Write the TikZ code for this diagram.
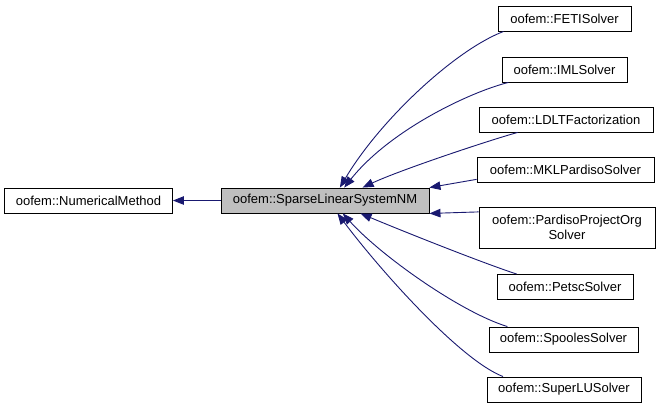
\documentclass[tikz,border=0pt]{standalone}
\usepackage{fontspec}
\setmainfont{Liberation Sans}
\usetikzlibrary{arrows.meta}
\definecolor{edgeblue}{HTML}{191970}
\definecolor{basegray}{HTML}{BFBFBF}
\begin{document}
\begin{tikzpicture}[x=1pt,y=-1pt,
  cls/.style={draw=black, line width=0.9pt, fill=white, inner sep=0pt,
    minimum height=25pt, anchor=center, align=center,
    font=\fontsize{13}{15}\selectfont},
  edge/.style={draw=edgeblue, line width=0.9pt,
    -{Triangle[length=11pt,width=8.5pt,fill=edgeblue]}}]
\useasboundingbox (0,0) rectangle (657,408);
\node[cls, minimum width=168pt] (num) at (88.5,200.5) {oofem::NumericalMethod};
\node[cls, minimum width=208pt, fill=basegray] (sparse) at (325,200.5) {oofem::SparseLinearSystemNM};
\node[cls, minimum width=133pt] (feti) at (564.5,18.5) {oofem::FETISolver};
\node[cls, minimum width=125pt] (iml) at (564.5,69.5) {oofem::IMLSolver};
\node[cls, minimum width=174pt] (ldlt) at (566,119.5) {oofem::LDLTFactorization};
\node[cls, minimum width=177pt] (mkl) at (565.5,170) {oofem::MKLPardisoSolver};
\node[cls, minimum width=176pt, minimum height=41pt] (pardiso) at (567,227.5) {oofem::PardisoProjectOrg\\Solver};
\node[cls, minimum width=136pt] (petsc) at (565,287) {oofem::PetscSolver};
\node[cls, minimum width=149pt] (spooles) at (563.5,339.5) {oofem::SpoolesSolver};
\node[cls, minimum width=154pt] (superlu) at (564,389.5) {oofem::SuperLUSolver};

\draw[edge] (sparse.west) -- (num.east);
\draw[edge] (feti.192) .. controls (455,50) and (380,120) .. (sparse.41.8);
\draw[edge] (iml.193) .. controls (470,92) and (390,130) .. (sparse.34.8);
\draw[edge] (ldlt.195) .. controls (490,140) and (400,170) .. (sparse.19.7);
\draw[edge] (mkl.186.4) -- (sparse.north east);
\draw[edge] (pardiso.170.6) -- (sparse.south east);
\draw[edge] (petsc.165.4) .. controls (480,262) and (400,230) .. (sparse.-20.7);
\draw[edge] (spooles.167.3) .. controls (460,312) and (380,255) .. (sparse.-36.3);
\draw[edge] (superlu.168.4) .. controls (460,360) and (380,270) .. (sparse.-46.2);
\end{tikzpicture}
\end{document}
